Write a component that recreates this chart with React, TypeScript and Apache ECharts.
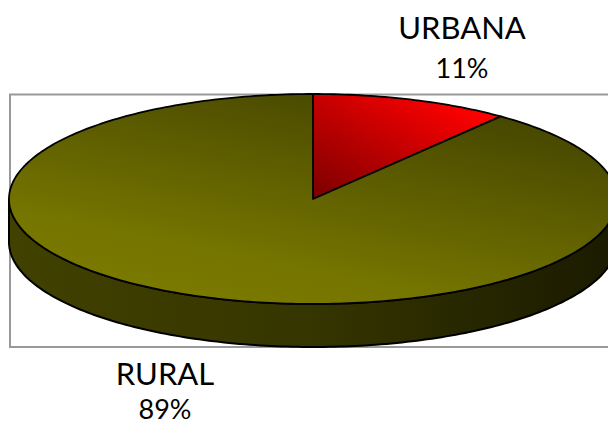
import React, { useEffect, useRef } from "react";
import * as echarts from "echarts";

const categories = ["URBANA", "RURAL"];
const shares = [10.6, 89.4];
const percentLabels = ["11%", "89%"];

const CX = 313;
const CY = 199;
const RX = 304;
const RY = 105;
const DEPTH = 43;
const NAME_FONT = '31px Lato, sans-serif';
const PCT_FONT = '27px Lato, sans-serif';
const labelPos = [
  { x: 462, y1: 27, y2: 67 },
  { x: 165, y1: 373, y2: 408.5 },
];

const pt = (deg: number, dy = 0): number[] => {
  const a = (deg * Math.PI) / 180;
  return [CX + RX * Math.sin(a), CY - RY * Math.cos(a) + dy];
};

const arcPts = (from: number, to: number, dy = 0): number[][] => {
  const out: number[][] = [];
  const n = Math.max(2, Math.ceil(Math.abs(to - from)));
  for (let i = 0; i <= n; i++) out.push(pt(from + ((to - from) * i) / n, dy));
  return out;
};

const topFills = [
  new echarts.graphic.LinearGradient(0, 1, 1, 0, [
    { offset: 0, color: "#7a0000" },
    { offset: 0.85, color: "#ff0000" },
    { offset: 1, color: "#ff0000" },
  ]),
  new echarts.graphic.LinearGradient(0.22, 1, 0.8, 0, [
    { offset: 0, color: "#7c7c00" },
    { offset: 0.25, color: "#747400" },
    { offset: 1, color: "#424200" },
  ]),
];

const sideFill = new echarts.graphic.LinearGradient(0, 0, 1, 0, [
  { offset: 0, color: "#414100" },
  { offset: 0.5, color: "#353500" },
  { offset: 1, color: "#1a1a00" },
]);

const renderSlice = (params: any, api: any) => {
  const i = params.dataIndex;
  let sum = 0;
  let before = 0;
  for (let k = 0; k < shares.length; k++) {
    if (k < i) before += shares[k];
    sum += shares[k];
  }
  const start = (before / sum) * 360;
  const end = start + (api.value(1) / sum) * 360;
  const children: any[] = [];
  const sideFrom = Math.max(start, 90);
  const sideTo = Math.min(end, 270);
  if (sideTo > sideFrom) {
    children.push({
      type: "polygon",
      shape: { points: [...arcPts(sideFrom, sideTo), ...arcPts(sideTo, sideFrom, DEPTH)] },
      style: { fill: sideFill, stroke: "#000", lineWidth: 2, lineJoin: "round" },
    });
  }
  children.push({
    type: "polygon",
    shape: { points: [[CX, CY], ...arcPts(start, end)] },
    style: { fill: topFills[i], stroke: "#000", lineWidth: 1.8, lineJoin: "round" },
  });
  const pos = labelPos[i];
  children.push({
    type: "text",
    style: { text: categories[i], x: pos.x, y: pos.y1, font: NAME_FONT, fill: "#000", align: "center", verticalAlign: "middle" },
  });
  children.push({
    type: "text",
    style: { text: percentLabels[i], x: pos.x, y: pos.y2, font: PCT_FONT, fill: "#000", align: "center", verticalAlign: "middle" },
  });
  return { type: "group", children };
};

export default function App() {
  const ref = useRef<HTMLDivElement>(null);
  useEffect(() => {
    const chart = echarts.init(ref.current!, null, { renderer: "svg" });
    chart.setOption({
      animation: false,
      backgroundColor: "#ffffff",
      graphic: [
        {
          type: "rect",
          shape: { x: 10, y: 94.5, width: 640, height: 252.5 },
          style: { fill: "#ffffff", stroke: "#999999", lineWidth: 2 },
          z: 0,
        },
      ],
      series: [
        {
          type: "custom",
          coordinateSystem: "none",
          renderItem: renderSlice,
          data: categories.map((c, i) => [c, shares[i]]),
          encode: { value: 1 },
          clip: false,
          silent: true,
        },
      ],
    });
    return () => chart.dispose();
  }, []);
  return <div ref={ref} style={{ position: "absolute", left: 0, top: 0, width: 608, height: 425 }} />;
}
